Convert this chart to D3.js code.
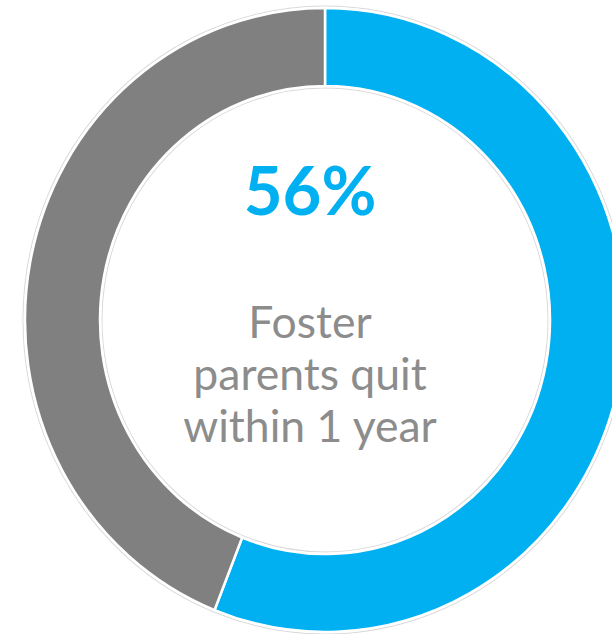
<!DOCTYPE html>
<html>
<head>
<meta charset="utf-8">
<script src="https://cdn.jsdelivr.net/npm/d3@7"></script>
<style>
	body { margin: 0; background: #fff; }
	svg { display: block; }
</style>
</head>
<body>
<svg id="chart"></svg>
<script>
var categories = ["Quit within 1 year", "Stayed"];
var values = [56, 44];
var colors = ["#00B0F0", "#808080"];
var centerLines = ["Foster", "parents quit", "within 1 year"];

var width = 612, height = 634;
var cx = 325, cy = 320;
var outerR = 300, innerR = 225;
// the donut in the picture is a little taller than wide
var stretchY = 1.04;

var svg = d3.select("#chart")
	.attr("width", width)
	.attr("height", height);

var pieData = d3.pie()
	.sort(null)
	.value(function (d) { return d.value; })(
		categories.map(function (c, i) { return {name: c, value: values[i], color: colors[i]}; })
	);

var arc = d3.arc()
	.innerRadius(innerR)
	.outerRadius(outerR);

var g = svg.append("g")
	.attr("transform", "translate(" + cx + "," + cy + ") scale(1," + stretchY + ")");

// faint outline just outside the ring
g.append("circle")
	.attr("r", outerR + 2)
	.attr("fill", "none")
	.attr("stroke", "#d9d9d9")
	.attr("stroke-width", 1);
g.append("circle")
	.attr("r", innerR - 2)
	.attr("fill", "none")
	.attr("stroke", "#d9d9d9")
	.attr("stroke-width", 1);

g.selectAll("path.slice")
	.data(pieData)
	.enter().append("path")
	.attr("class", "slice")
	.attr("d", arc)
	.attr("fill", function (d) { return d.data.color; })
	.attr("stroke", "#fff")
	.attr("stroke-width", 2.5);

// centre text
var textX = 310;
svg.append("text")
	.attr("x", textX)
	.attr("y", 215)
	.attr("text-anchor", "middle")
	.attr("font-family", "Lato, 'Open Sans', sans-serif")
	.attr("font-weight", "bold")
	.attr("font-size", 67)
	.attr("fill", colors[0])
	.text(values[0] + "%");

var lineY = [338, 390, 442];
svg.selectAll("text.label")
	.data(centerLines)
	.enter().append("text")
	.attr("class", "label")
	.attr("x", textX)
	.attr("y", function (d, i) { return lineY[i]; })
	.attr("text-anchor", "middle")
	.attr("font-family", "Lato, 'Open Sans', sans-serif")
	.attr("font-size", 44.5)
	.attr("fill", "#8c8c8c")
	.text(function (d) { return d; });
</script>
</body>
</html>
